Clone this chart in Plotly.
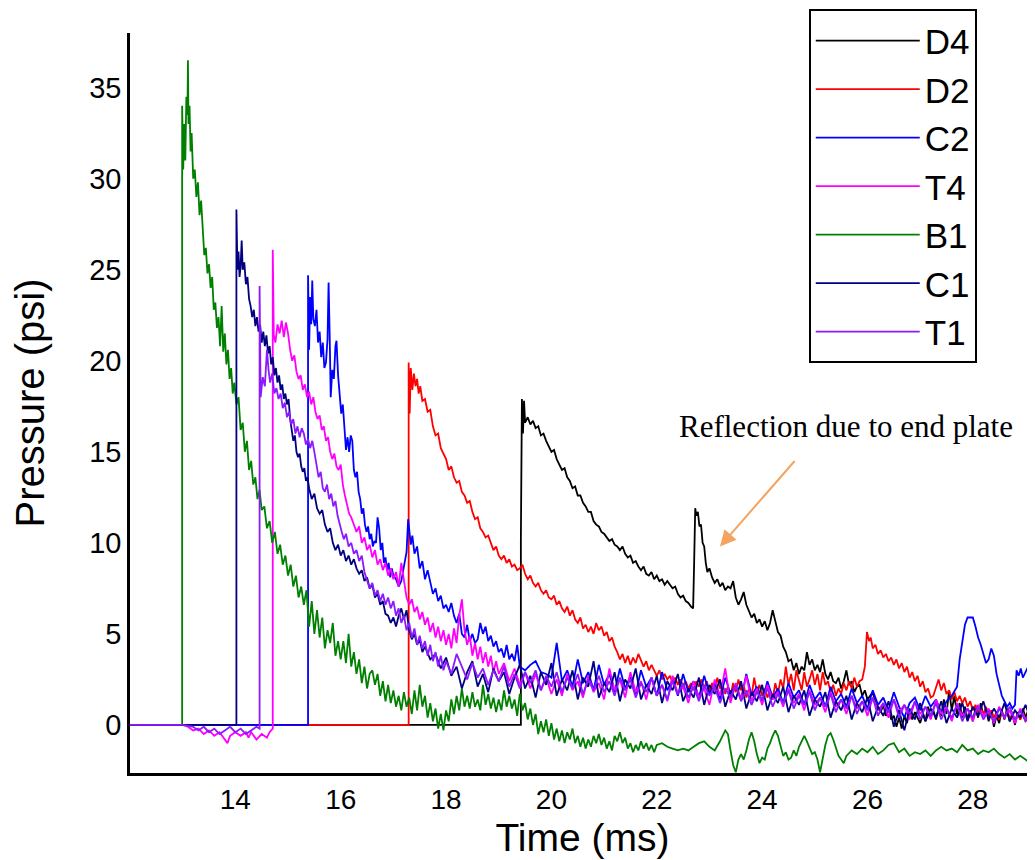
import plotly.graph_objects as go

# ---------------- data (time in ms, pressure in psi) ----------------
D4 = [(12.00,0),(19.42,0),(19.42,10.2),(19.44,17.9),(19.46,16.0),(19.48,17.8),(19.50,16.6),(19.55,16.9),
(19.60,16.5),(19.65,16.7),(19.70,16.3),(19.75,16.4),(19.80,15.9),(19.85,16.0),(19.90,15.6),(19.95,15.3),
(20.00,15.0),(20.05,15.1),(20.10,14.6),(20.15,14.3),(20.20,14.0),(20.25,14.1),(20.30,13.6),(20.35,13.4),
(20.40,13.0),(20.45,13.1),(20.50,12.6),(20.55,12.6),(20.60,12.2),(20.65,12.0),(20.70,11.7),(20.75,11.7),
(20.80,11.2),(20.85,11.0),(20.90,10.9),(20.95,10.6),(21.00,10.5),(21.05,10.3),(21.10,10.1),(21.15,10.2),
(21.20,9.9),(21.25,9.8),(21.30,9.6),(21.35,9.8),(21.40,9.4),(21.45,9.2),(21.50,9.3),(21.55,8.9),
(21.60,9.0),(21.65,8.7),(21.70,8.5),(21.75,8.7),(21.80,8.3),(21.85,8.2),(21.90,8.4),(21.95,8.0),
(22.00,8.2),(22.05,7.9),(22.10,8.0),(22.15,7.7),(22.20,7.9),(22.25,7.7),(22.30,7.5),(22.35,7.6),
(22.40,7.2),(22.45,7.0),(22.50,7.1),(22.55,6.8),(22.60,6.7),(22.65,6.5),(22.69,6.4),(22.71,9.0),
(22.73,11.9),(22.75,11.5),(22.78,11.7),(22.81,10.9),(22.84,11.0),(22.87,10.0),(22.90,9.8),(22.93,8.9),
(22.96,8.4),(23.00,8.6),(23.05,8.1),(23.10,7.8),(23.15,8.0),(23.20,7.6),(23.25,7.8),(23.30,7.4),
(23.35,7.6),(23.40,7.5),(23.45,7.9),(23.50,7.0),(23.55,6.6),(23.60,6.9),(23.65,7.3),(23.70,6.6),
(23.75,6.2),(23.80,5.9),(23.85,6.1),(23.90,5.6),(23.95,5.8),(24.00,5.4),(24.05,5.7),(24.10,5.2),
(24.15,5.6),(24.20,6.3),(24.25,5.7),(24.30,5.1),(24.35,4.9),(24.40,4.3),(24.45,4.0),(24.50,3.5),
(24.55,3.6),(24.60,3.0),(24.65,3.4),(24.70,2.8),(24.75,3.2),(24.80,3.0),(24.85,4.0),(24.90,3.3),
(24.95,3.6),(25.00,3.0),(25.05,3.3),(25.10,2.9),(25.15,3.6),(25.20,2.8),(25.25,2.5),(25.30,2.9),
(25.35,2.4),(25.40,2.3),(25.45,2.6),(25.50,2.0),(25.55,2.4),(25.60,3.0),(25.65,2.2),(25.70,2.4),
(25.75,1.8),(25.80,2.1),(25.85,2.2),(25.90,1.6),(25.95,1.9),(26.00,1.4),(26.05,1.6),(26.10,1.8),
(26.15,1.2),(26.20,1.0),(26.25,0.7),(26.30,1.1),(26.35,0.5),(26.40,0.9),(26.45,0.3),(26.50,0.5),
(26.55,-0.1),(26.60,0.4),(26.65,-0.2),(26.70,0.5),(26.75,0.1),(26.80,0.8),(26.85,0.3),(26.90,0.7),
(26.95,0.4),(27.00,0.1),(27.05,0.6),(27.10,0.2),(27.15,1.0),(27.20,0.4),(27.25,0.8),(27.30,0.3),
(27.35,0.9),(27.40,0.5),(27.45,1.4),(27.50,0.6),(27.55,1.9),(27.60,0.8),(27.65,1.6),(27.70,0.6),
(27.75,1.2),(27.80,0.4),(27.85,1.0),(27.90,0.3),(27.95,0.8),(28.00,0.2),(28.05,0.9),(28.10,0.4),
(28.15,1.2),(28.20,0.5),(28.25,0.9),(28.30,0.2),(28.35,0.7),(28.40,-0.1),(28.45,0.5),(28.50,0.1),
(28.55,0.8),(28.60,0.3),(28.65,0.9),(28.70,0.2),(28.75,0.6),(28.80,0.0),(28.85,0.7),(28.90,0.3),
(28.95,0.9),(29.00,0.4),(29.05,0.8),(29.10,0.5),(29.20,0.7)]

D2 = [(12.00,0),(17.29,0),(17.29,19.9),(17.31,17.1),(17.33,19.6),(17.36,18.4),(17.39,19.3),(17.42,18.6),
(17.45,19.0),(17.48,18.2),(17.51,18.6),(17.55,17.8),(17.60,17.9),(17.65,17.2),(17.70,17.3),(17.75,16.4),
(17.80,15.9),(17.85,16.0),(17.90,15.2),(17.95,14.9),(18.00,14.6),(18.05,14.0),(18.10,14.2),(18.15,13.6),
(18.20,13.3),(18.25,13.4),(18.30,12.8),(18.35,12.6),(18.40,12.2),(18.45,12.3),(18.50,11.7),(18.55,11.3),
(18.60,11.4),(18.65,10.8),(18.70,10.6),(18.75,10.3),(18.80,10.4),(18.85,10.0),(18.90,9.6),(18.95,9.8),
(19.00,9.3),(19.05,9.1),(19.10,9.3),(19.15,8.9),(19.20,9.1),(19.25,8.7),(19.30,8.8),(19.35,8.5),
(19.40,8.6),(19.45,8.8),(19.50,8.3),(19.55,8.0),(19.60,8.2),(19.65,7.8),(19.70,7.6),(19.75,7.8),
(19.80,7.4),(19.85,7.2),(19.90,7.4),(19.95,7.0),(20.00,6.9),(20.05,7.1),(20.10,6.6),(20.15,6.8),
(20.20,6.4),(20.25,6.2),(20.30,6.5),(20.35,6.0),(20.40,6.3),(20.45,5.8),(20.50,5.6),(20.55,5.9),
(20.60,5.3),(20.65,5.5),(20.70,5.1),(20.75,5.4),(20.80,5.0),(20.85,5.6),(20.90,5.2),(20.95,5.4),
(21.00,4.9),(21.05,5.1),(21.10,4.6),(21.15,4.8),(21.20,4.3),(21.25,4.0),(21.30,3.6),(21.35,3.9),
(21.40,3.4),(21.45,3.8),(21.50,3.3),(21.55,3.7),(21.60,3.4),(21.65,3.9),(21.70,3.5),(21.75,3.2),
(21.80,3.5),(21.85,3.0),(21.90,3.3),(21.95,3.0),(22.00,2.7),(22.05,3.0),(22.10,2.5),(22.15,2.8),
(22.20,2.5),(22.25,2.7),(22.30,2.3),(22.35,2.6),(22.40,2.2),(22.45,2.5),(22.50,2.1),(22.55,2.4),
(22.60,2.0),(22.65,2.3),(22.70,1.9),(22.75,2.4),(22.80,2.1),(22.85,2.5),(22.90,2.0),(22.95,2.4),
(23.00,1.8),(23.05,2.3),(23.10,1.9),(23.15,2.6),(23.20,2.0),(23.25,2.2),(23.30,1.7),(23.35,2.1),
(23.40,1.6),(23.45,2.3),(23.50,1.8),(23.55,2.5),(23.60,1.9),(23.65,2.2),(23.70,1.5),(23.75,2.0),
(23.80,1.6),(23.85,2.6),(23.90,1.8),(23.95,2.2),(24.00,1.6),(24.05,2.0),(24.10,1.5),(24.15,1.9),
(24.20,1.4),(24.25,2.3),(24.30,1.7),(24.35,2.5),(24.40,2.0),(24.45,3.2),(24.50,2.2),(24.55,2.8),
(24.60,1.9),(24.65,3.0),(24.70,2.4),(24.75,1.9),(24.80,2.9),(24.85,2.1),(24.90,2.5),(24.95,3.0),
(25.00,2.2),(25.05,2.8),(25.10,1.9),(25.15,2.9),(25.20,2.2),(25.25,2.4),(25.30,1.8),(25.35,2.2),
(25.40,1.6),(25.45,2.0),(25.50,1.7),(25.55,2.3),(25.60,1.9),(25.65,2.4),(25.70,2.0),(25.75,2.6),
(25.80,2.1),(25.85,2.4),(25.90,2.5),(25.95,3.2),(25.99,5.1),(26.03,4.6),(26.06,4.8),(26.10,4.2),
(26.15,4.4),(26.20,3.9),(26.25,4.1),(26.30,3.7),(26.35,3.9),(26.40,3.5),(26.45,3.7),(26.50,3.3),
(26.55,3.6),(26.60,3.1),(26.65,3.4),(26.70,2.9),(26.75,3.2),(26.80,2.6),(26.85,2.9),(26.90,2.4),
(26.95,2.7),(27.00,2.1),(27.05,2.4),(27.10,1.8),(27.15,2.0),(27.20,1.5),(27.25,1.6),(27.30,2.1),
(27.35,2.5),(27.40,1.9),(27.45,2.3),(27.50,1.7),(27.55,1.9),(27.60,1.4),(27.65,1.8),(27.70,1.3),
(27.75,1.6),(27.80,1.2),(27.85,1.5),(27.90,1.0),(27.95,1.3),(28.00,0.8),(28.05,1.1),(28.10,0.7),
(28.15,0.9),(28.20,0.6),(28.25,1.0),(28.30,0.5),(28.35,0.8),(28.40,0.4),(28.45,0.7),(28.50,0.3),
(28.55,0.7),(28.60,0.4),(28.65,0.8),(28.70,0.3),(28.75,0.6),(28.80,0.2),(28.85,0.6),(28.90,0.3),
(28.95,0.7),(29.00,0.2),(29.10,0.5),(29.20,0.3)]

C2 = [(12.00,0),(15.38,0),(15.38,24.7),(15.40,20.6),(15.42,23.5),(15.44,22.0),(15.46,24.4),(15.48,22.3),
(15.51,21.9),(15.54,22.8),(15.57,21.0),(15.60,21.6),(15.63,20.2),(15.66,21.0),(15.69,19.6),(15.72,19.9),
(15.75,21.2),(15.77,24.3),(15.79,21.5),(15.81,18.0),(15.84,19.5),(15.87,19.0),(15.90,20.8),(15.92,21.1),
(15.95,19.2),(15.98,18.2),(16.01,17.1),(16.04,17.6),(16.07,16.0),(16.10,15.1),(16.13,15.8),(16.16,15.0),
(16.19,15.9),(16.22,15.6),(16.25,14.0),(16.28,13.6),(16.31,13.9),(16.34,12.8),(16.37,12.4),(16.40,11.6),
(16.43,11.9),(16.46,11.0),(16.49,10.6),(16.52,10.9),(16.55,10.2),(16.58,10.5),(16.61,9.8),(16.64,10.1),
(16.67,10.0),(16.70,11.4),(16.73,10.8),(16.76,9.6),(16.79,10.0),(16.82,8.9),(16.85,9.2),(16.88,8.5),
(16.91,8.9),(16.94,8.1),(16.97,8.6),(17.00,8.2),(17.05,8.0),(17.10,7.6),(17.15,7.9),(17.20,8.6),
(17.25,9.5),(17.28,11.3),(17.30,10.6),(17.33,9.9),(17.36,10.4),(17.40,9.4),(17.45,9.8),(17.50,8.6),
(17.55,9.0),(17.60,8.0),(17.65,8.5),(17.70,7.8),(17.75,7.2),(17.80,7.5),(17.85,6.8),(17.90,7.1),
(17.95,6.4),(18.00,6.6),(18.05,6.2),(18.10,6.7),(18.15,6.0),(18.20,5.6),(18.25,6.1),(18.30,5.0),
(18.35,4.8),(18.40,5.5),(18.45,4.6),(18.50,5.0),(18.55,4.5),(18.60,4.7),(18.65,5.6),(18.70,5.0),
(18.75,5.4),(18.80,4.6),(18.85,4.9),(18.90,4.3),(18.95,4.6),(19.00,4.0),(19.05,4.2),(19.10,3.7),
(19.15,4.4),(19.20,3.6),(19.25,3.9),(19.30,3.5),(19.35,4.4),(19.40,3.2),(19.50,3.0),(19.60,3.3),
(19.70,3.5),(19.80,2.9),(19.90,2.8),(20.00,2.6),(20.10,4.5),(20.20,2.4),(20.30,3.0),(20.40,2.1),
(20.50,3.6),(20.60,2.3),(20.70,2.9),(20.80,1.9),(20.90,3.3),(21.00,2.2),(21.10,2.8),(21.20,1.8),
(21.30,3.1),(21.40,2.0),(21.50,2.7),(21.60,1.7),(21.70,3.0),(21.80,2.1),(21.90,2.6),(22.00,1.6),
(22.10,2.9),(22.20,1.9),(22.30,2.5),(22.40,1.6),(22.50,2.8),(22.60,1.8),(22.70,2.4),(22.80,1.5),
(22.90,2.7),(23.00,1.7),(23.10,2.3),(23.20,1.4),(23.30,2.6),(23.40,1.7),(23.50,2.2),(23.60,1.4),
(23.70,2.8),(23.80,1.6),(23.90,2.1),(24.00,1.3),(24.10,2.4),(24.20,1.5),(24.30,2.0),(24.40,1.2),
(24.50,2.3),(24.60,1.5),(24.70,1.9),(24.80,1.1),(24.90,2.2),(25.00,1.4),(25.10,1.8),(25.20,1.0),
(25.30,2.1),(25.40,1.3),(25.50,1.7),(25.60,1.0),(25.70,2.0),(25.80,1.2),(25.90,1.6),(26.00,0.9),
(26.10,1.9),(26.20,1.1),(26.30,1.5),(26.40,0.8),(26.50,1.8),(26.60,1.0),(26.70,0.4),(26.80,1.2),
(26.90,1.5),(27.00,0.8),(27.10,1.6),(27.20,1.0),(27.30,1.4),(27.40,0.7),(27.50,1.3),(27.60,1.6),
(27.70,2.1),(27.75,3.6),(27.80,4.6),(27.85,5.5),(27.90,5.9),(27.95,5.9),(28.00,5.9),(28.05,5.4),
(28.10,4.8),(28.15,4.4),(28.20,3.9),(28.25,3.4),(28.30,3.6),(28.35,4.2),(28.40,3.8),(28.45,2.8),
(28.50,2.2),(28.55,1.6),(28.60,1.3),(28.65,1.0),(28.70,1.2),(28.75,0.9),(28.80,1.1),(28.83,3.0),
(28.87,2.7),(28.91,3.1),(28.95,2.6),(29.00,2.9),(29.05,3.2),(29.10,2.4),(29.15,2.2),(29.20,2.0)]

T4 = [(12.00,0),(13.00,0),(13.10,-0.1),(13.20,-0.3),(13.30,-0.2),(13.40,-0.5),(13.50,-0.3),(13.60,-0.6),
(13.70,-0.4),(13.80,-0.8),(13.85,-1.0),(13.90,-0.6),(14.00,-0.4),(14.10,-0.6),(14.20,-0.4),(14.25,-0.7),
(14.30,-0.4),(14.40,-0.8),(14.50,-0.5),(14.60,-0.7),(14.65,-0.4),(14.71,-0.2),(14.71,26.1),(14.73,21.4),
(14.76,21.0),(14.80,22.0),(14.84,21.5),(14.88,22.2),(14.92,21.3),(14.96,22.1),(15.00,21.5),(15.04,20.6),
(15.08,20.0),(15.12,20.3),(15.16,19.4),(15.20,19.0),(15.24,19.2),(15.28,18.4),(15.32,18.7),(15.36,18.0),
(15.40,18.3),(15.44,17.6),(15.48,18.0),(15.52,17.2),(15.56,16.8),(15.60,17.0),(15.64,16.2),(15.68,16.4),
(15.72,15.6),(15.76,15.8),(15.80,15.0),(15.84,14.6),(15.88,14.9),(15.92,14.2),(15.96,14.0),(16.00,14.3),
(16.04,13.2),(16.08,12.6),(16.12,12.1),(16.16,11.6),(16.20,11.4),(16.25,11.0),(16.30,10.6),(16.35,10.9),
(16.40,10.0),(16.45,10.3),(16.50,9.6),(16.55,9.9),(16.60,9.2),(16.65,9.6),(16.70,8.8),(16.75,9.1),
(16.80,8.5),(16.85,8.9),(16.90,8.2),(16.95,8.6),(17.00,8.0),(17.05,8.4),(17.10,7.6),(17.15,8.9),
(17.20,7.8),(17.25,7.0),(17.30,6.6),(17.35,6.9),(17.40,6.2),(17.45,6.5),(17.50,5.8),(17.55,6.2),
(17.60,5.5),(17.65,5.9),(17.70,5.1),(17.75,5.6),(17.80,4.8),(17.85,5.4),(17.90,4.6),(17.95,5.2),
(18.00,4.4),(18.05,5.0),(18.10,4.2),(18.15,5.3),(18.20,4.5),(18.25,6.0),(18.30,6.9),(18.35,5.2),
(18.40,4.4),(18.45,4.9),(18.50,3.8),(18.55,4.5),(18.60,3.6),(18.65,4.3),(18.70,3.4),(18.75,4.0),
(18.80,3.2),(18.85,3.8),(18.90,2.9),(18.95,3.5),(19.00,2.8),(19.10,3.4),(19.20,2.4),(19.30,3.1),
(19.40,2.2),(19.50,2.9),(19.60,2.0),(19.70,2.8),(19.80,1.9),(19.90,2.6),(20.00,1.7),(20.10,2.5),
(20.20,1.6),(20.30,2.8),(20.40,1.9),(20.50,2.4),(20.60,1.5),(20.70,2.7),(20.80,1.8),(20.90,2.3),
(21.00,1.4),(21.10,3.1),(21.20,1.9),(21.30,2.5),(21.40,1.5),(21.50,2.9),(21.60,1.8),(21.70,2.4),
(21.80,1.4),(21.90,2.6),(22.00,1.6),(22.10,2.2),(22.20,1.3),(22.30,2.7),(22.40,1.7),(22.50,2.1),
(22.60,1.2),(22.70,2.4),(22.80,1.5),(22.90,2.0),(23.00,1.1),(23.10,2.5),(23.20,1.6),(23.30,3.1),
(23.40,1.2),(23.50,2.3),(23.60,1.4),(23.70,2.7),(23.80,1.3),(23.90,2.0),(24.00,1.1),(24.10,2.2),
(24.20,1.4),(24.30,1.8),(24.40,1.0),(24.50,2.0),(24.60,1.2),(24.70,1.7),(24.80,0.8),(24.90,1.9),
(25.00,1.1),(25.10,1.5),(25.20,0.7),(25.30,1.8),(25.40,1.0),(25.50,1.4),(25.60,0.6),(25.70,1.6),
(25.80,0.9),(25.90,1.3),(26.00,0.5),(26.10,1.5),(26.20,0.8),(26.30,1.2),(26.40,0.4),(26.50,1.4),
(26.60,0.7),(26.70,1.1),(26.80,0.3),(26.90,1.3),(27.00,0.6),(27.10,1.0),(27.20,0.3),(27.30,1.4),
(27.40,0.6),(27.50,1.0),(27.60,0.2),(27.70,1.2),(27.80,0.5),(27.90,0.9),(28.00,0.2),(28.10,1.1),
(28.20,0.5),(28.30,0.9),(28.40,0.1),(28.50,1.0),(28.60,0.4),(28.70,0.8),(28.80,0.1),(28.90,0.9),
(29.00,0.3),(29.10,0.7),(29.20,0.4)]

B1 = [(12.00,0),(12.99,0),(12.99,34.0),(13.01,30.5),(13.03,33.0),(13.05,31.0),(13.07,34.5),(13.09,33.5),
(13.10,36.5),(13.11,33.0),(13.13,34.0),(13.15,31.5),(13.17,32.5),(13.20,30.0),(13.23,30.5),(13.26,29.0),
(13.29,29.8),(13.32,28.0),(13.35,28.8),(13.38,27.0),(13.41,25.8),(13.44,26.2),(13.47,24.8),(13.50,25.3),
(13.53,24.0),(13.56,24.6),(13.59,22.8),(13.62,23.2),(13.65,21.8),(13.68,22.4),(13.71,20.8),(13.74,23.0),
(13.77,20.5),(13.80,21.5),(13.83,19.8),(13.86,20.6),(13.89,19.0),(13.92,19.6),(13.95,18.2),(13.98,18.8),
(14.02,17.6),(14.06,18.0),(14.10,16.2),(14.14,16.6),(14.18,15.0),(14.22,15.6),(14.26,14.0),(14.30,14.5),
(14.34,13.2),(14.38,13.6),(14.42,12.4),(14.46,12.9),(14.50,11.8),(14.55,12.0),(14.60,10.8),(14.65,11.2),
(14.70,10.0),(14.75,10.6),(14.80,9.4),(14.85,9.9),(14.90,8.8),(14.95,9.3),(15.00,8.2),(15.05,8.8),
(15.10,7.6),(15.15,8.2),(15.20,7.0),(15.25,7.6),(15.30,6.6),(15.35,7.4),(15.40,5.4),(15.45,6.8),
(15.50,5.0),(15.55,6.3),(15.60,4.8),(15.65,5.9),(15.70,4.2),(15.75,5.2),(15.80,4.5),(15.85,5.6),
(15.90,3.8),(15.95,4.6),(16.00,3.6),(16.05,4.6),(16.10,3.4),(16.15,5.0),(16.20,3.2),(16.25,4.0),
(16.30,2.8),(16.35,3.6),(16.40,2.3),(16.45,3.2),(16.50,2.0),(16.55,2.8),(16.60,3.0),(16.65,2.2),
(16.70,2.8),(16.75,1.6),(16.80,2.4),(16.85,1.3),(16.90,2.2),(16.95,1.2),(17.00,1.9),(17.05,1.0),
(17.10,1.6),(17.15,0.8),(17.20,1.8),(17.25,1.0),(17.30,1.5),(17.35,0.6),(17.40,1.9),(17.45,0.8),
(17.50,2.2),(17.55,1.0),(17.60,1.6),(17.65,0.4),(17.70,1.2),(17.75,0.2),(17.80,0.9),(17.85,-0.2),
(17.90,0.6),(17.95,-0.3),(18.00,0.8),(18.05,0.2),(18.10,1.4),(18.15,0.6),(18.20,1.6),(18.25,0.8),
(18.30,2.0),(18.35,1.0),(18.40,1.6),(18.45,0.9),(18.50,1.8),(18.55,1.0),(18.60,1.4),(18.65,0.8),
(18.70,2.2),(18.75,1.1),(18.80,1.7),(18.85,0.9),(18.90,1.5),(18.95,0.7),(19.00,1.4),(19.05,0.8),
(19.10,1.9),(19.15,1.0),(19.20,1.6),(19.25,0.9),(19.30,1.4),(19.35,0.5),(19.40,1.7),(19.45,0.8),
(19.50,1.2),(19.55,0.3),(19.60,0.9),(19.65,0.0),(19.70,0.6),(19.75,-0.5),(19.80,0.2),(19.85,-0.4),
(19.90,0.3),(19.95,-0.6),(20.00,0.1),(20.05,-0.8),(20.10,-0.2),(20.15,-0.9),(20.20,-0.3),(20.25,-1.0),
(20.30,-0.4),(20.35,-0.8),(20.40,-0.2),(20.45,-1.0),(20.50,-0.6),(20.55,-1.2),(20.60,-0.7),(20.65,-1.3),
(20.70,-0.8),(20.75,-1.2),(20.80,-0.6),(20.85,-1.0),(20.90,-0.5),(20.95,-1.1),(21.00,-0.7),(21.05,-1.3),
(21.10,-0.9),(21.15,-1.4),(21.20,-0.6),(21.25,-0.9),(21.30,-0.4),(21.35,-1.0),(21.40,-0.7),(21.45,-1.3),
(21.50,-1.0),(21.55,-1.5),(21.60,-1.1),(21.65,-1.4),(21.70,-0.9),(21.75,-1.3),(21.80,-1.0),(21.85,-1.4),
(21.90,-1.1),(21.95,-1.5),(22.00,-1.1),(22.10,-1.0),(22.20,-1.2),(22.30,-1.3),(22.40,-1.4),(22.50,-1.3),
(22.60,-1.4),(22.70,-1.2),(22.80,-1.0),(22.90,-0.9),(23.00,-1.2),(23.10,-1.4),(23.20,-0.9),(23.30,-0.3),
(23.35,-0.5),(23.40,-1.4),(23.45,-2.2),(23.50,-2.6),(23.55,-1.9),(23.60,-1.6),(23.65,-1.9),(23.70,-1.4),
(23.75,-0.8),(23.80,-0.4),(23.85,-0.9),(23.90,-1.6),(23.95,-2.1),(24.00,-1.8),(24.05,-1.9),(24.10,-1.3),
(24.15,-1.0),(24.20,-0.6),(24.25,-0.3),(24.30,-0.6),(24.35,-1.2),(24.40,-1.7),(24.45,-1.5),(24.50,-1.9),
(24.55,-1.8),(24.60,-1.4),(24.65,-1.7),(24.70,-1.2),(24.75,-0.9),(24.80,-0.6),(24.85,-0.9),(24.90,-1.3),
(24.95,-1.6),(25.00,-1.5),(25.05,-1.9),(25.10,-2.6),(25.15,-1.8),(25.20,-1.1),(25.25,-0.6),(25.30,-0.45),
(25.35,-0.8),(25.40,-1.3),(25.45,-1.7),(25.50,-1.9),(25.55,-2.1),(25.60,-1.7),(25.70,-1.4),(25.80,-1.6),
(25.90,-1.3),(26.00,-1.5),(26.10,-1.2),(26.20,-1.6),(26.30,-1.4),(26.40,-1.1),(26.50,-1.0),(26.60,-1.5),
(26.70,-1.3),(26.80,-1.7),(26.90,-1.5),(27.00,-1.6),(27.10,-1.4),(27.20,-1.7),(27.30,-1.4),(27.40,-1.2),
(27.50,-1.4),(27.60,-1.3),(27.70,-1.5),(27.80,-1.1),(27.90,-1.4),(28.00,-1.3),(28.10,-1.6),(28.20,-1.4),
(28.30,-1.5),(28.40,-1.3),(28.50,-1.6),(28.60,-1.8),(28.70,-1.6),(28.80,-1.9),(28.90,-1.7),(29.00,-1.9),
(29.10,-2.1),(29.20,-2.0)]

C1 = [(12.00,0),(14.02,0),(14.02,28.3),(14.04,25.0),(14.06,26.0),(14.08,24.6),(14.10,25.2),(14.12,26.6),
(14.14,25.0),(14.17,25.4),(14.20,24.2),(14.23,24.6),(14.26,23.4),(14.29,23.0),(14.32,22.4),(14.35,22.8),
(14.38,21.9),(14.41,22.4),(14.44,21.6),(14.47,22.0),(14.50,21.0),(14.53,21.6),(14.56,20.8),(14.59,21.4),
(14.62,20.4),(14.65,20.8),(14.68,19.8),(14.71,20.2),(14.74,19.2),(14.77,19.6),(14.80,18.8),(14.83,19.2),
(14.86,18.4),(14.89,18.7),(14.92,17.9),(14.95,18.2),(14.98,17.6),(15.01,17.9),(15.04,16.8),(15.07,16.2),
(15.10,15.6),(15.13,15.9),(15.16,15.0),(15.19,14.7),(15.22,14.9),(15.25,14.2),(15.28,13.9),(15.31,14.1),
(15.34,13.4),(15.37,13.6),(15.40,13.0),(15.45,12.4),(15.50,12.7),(15.55,11.9),(15.60,11.6),(15.65,11.8),
(15.70,11.0),(15.75,10.6),(15.80,10.8),(15.85,10.0),(15.90,9.6),(15.95,9.9),(16.00,9.3),(16.05,9.6),
(16.10,9.0),(16.15,9.3),(16.20,8.8),(16.25,9.1),(16.30,8.6),(16.35,8.3),(16.40,8.5),(16.45,7.9),
(16.50,8.1),(16.55,7.5),(16.60,7.7),(16.65,7.0),(16.70,7.2),(16.75,6.6),(16.80,6.8),(16.85,6.1),
(16.90,6.0),(16.95,5.6),(17.00,5.9),(17.05,5.4),(17.10,6.0),(17.15,6.4),(17.20,5.8),(17.25,6.3),
(17.30,5.2),(17.35,4.7),(17.40,5.0),(17.45,4.4),(17.50,4.7),(17.55,4.0),(17.60,4.3),(17.70,3.6),
(17.80,3.9),(17.90,3.1),(18.00,3.7),(18.10,2.7),(18.20,3.2),(18.30,2.0),(18.40,2.9),(18.50,3.5),
(18.60,2.1),(18.70,2.8),(18.80,1.8),(18.90,3.1),(19.00,2.4),(19.10,2.9),(19.20,1.7),(19.30,2.6),
(19.40,3.3),(19.50,2.0),(19.60,2.7),(19.70,1.5),(19.80,2.9),(19.90,2.2),(20.00,3.4),(20.10,1.6),
(20.20,2.5),(20.30,1.9),(20.40,3.0),(20.50,1.4),(20.60,2.6),(20.70,2.1),(20.80,3.5),(20.90,1.5),
(21.00,2.3),(21.10,1.8),(21.20,2.9),(21.30,1.3),(21.40,2.5),(21.50,2.0),(21.60,3.1),(21.70,1.4),
(21.80,2.2),(21.90,1.7),(22.00,2.7),(22.10,1.2),(22.20,2.4),(22.30,1.9),(22.40,2.8),(22.50,1.3),
(22.60,2.0),(22.70,1.5),(22.80,2.6),(22.90,1.1),(23.00,2.2),(23.10,1.7),(23.20,2.5),(23.30,1.0),
(23.40,1.9),(23.50,1.4),(23.60,2.4),(23.70,0.9),(23.80,1.8),(23.90,1.3),(24.00,2.2),(24.10,0.8),
(24.20,1.7),(24.30,1.2),(24.40,2.1),(24.50,0.7),(24.60,1.6),(24.70,1.1),(24.80,1.9),(24.90,0.5),
(25.00,1.4),(25.10,1.0),(25.20,1.8),(25.30,0.4),(25.40,1.3),(25.50,0.8),(25.60,1.6),(25.70,0.3),
(25.80,1.2),(25.90,0.7),(26.00,1.5),(26.10,0.2),(26.20,1.0),(26.30,0.5),(26.40,1.3),(26.50,-0.1),
(26.60,0.8),(26.70,-0.3),(26.80,0.9),(26.90,0.3),(27.00,1.2),(27.10,0.2),(27.20,0.9),(27.30,0.4),
(27.40,1.3),(27.50,0.1),(27.60,0.9),(27.70,0.4),(27.80,1.2),(27.90,0.2),(28.00,1.0),(28.10,0.5),
(28.20,1.3),(28.30,0.3),(28.40,0.9),(28.50,0.4),(28.60,1.2),(28.70,0.2),(28.80,0.8),(28.90,0.4),
(29.00,1.1),(29.10,0.3),(29.20,0.8)]

T1 = [(12.00,0),(13.00,0),(13.20,-0.1),(13.30,-0.3),(13.40,-0.1),(13.50,-0.4),(13.60,-0.2),(13.70,-0.5),
(13.80,-0.3),(13.90,-0.1),(14.00,-0.4),(14.10,-0.2),(14.20,-0.5),(14.30,-0.3),(14.40,-0.1),(14.46,-0.2),
(14.46,24.1),(14.48,18.0),(14.52,19.1),(14.56,18.6),(14.60,20.6),(14.63,19.5),(14.66,18.8),(14.70,19.3),
(14.74,18.2),(14.78,18.5),(14.82,17.9),(14.86,18.2),(14.90,17.4),(14.94,17.7),(14.98,16.9),(15.02,17.2),
(15.06,16.5),(15.10,16.8),(15.14,16.0),(15.18,16.4),(15.22,15.8),(15.26,16.3),(15.30,16.0),(15.34,15.4),
(15.38,15.7),(15.42,15.2),(15.46,15.6),(15.50,15.0),(15.54,14.2),(15.58,13.6),(15.62,13.9),(15.66,13.0),
(15.70,12.8),(15.74,13.2),(15.78,12.4),(15.82,12.7),(15.86,12.0),(15.90,12.3),(15.94,11.5),(15.98,11.0),
(16.02,10.6),(16.06,10.2),(16.10,10.5),(16.15,9.8),(16.20,10.0),(16.25,9.4),(16.30,9.6),(16.35,9.0),
(16.40,9.3),(16.45,8.4),(16.50,8.0),(16.55,7.5),(16.60,7.8),(16.65,7.1),(16.70,7.4),(16.75,6.8),
(16.80,7.2),(16.85,6.6),(16.90,7.0),(16.95,6.4),(17.00,6.8),(17.05,6.0),(17.10,6.4),(17.15,5.6),
(17.20,6.0),(17.25,5.2),(17.30,5.6),(17.35,4.8),(17.40,5.3),(17.45,4.4),(17.50,4.9),(17.55,4.2),
(17.60,4.6),(17.65,3.8),(17.70,4.4),(17.75,3.5),(17.80,4.0),(17.85,3.2),(17.90,3.8),(17.95,3.0),
(18.00,3.5),(18.10,2.8),(18.20,3.9),(18.30,3.2),(18.40,2.5),(18.50,3.4),(18.60,2.6),(18.70,3.1),
(18.80,2.2),(18.90,3.0),(19.00,2.4),(19.10,3.2),(19.20,2.1),(19.30,2.8),(19.40,2.0),(19.50,2.9),
(19.60,2.3),(19.70,3.0),(19.80,1.9),(19.90,2.7),(20.00,2.1),(20.10,2.9),(20.20,1.8),(20.30,2.6),
(20.40,2.0),(20.50,2.8),(20.60,1.7),(20.70,2.5),(20.80,1.9),(20.90,2.7),(21.00,1.8),(21.10,2.4),
(21.20,1.6),(21.30,2.6),(21.40,1.9),(21.50,2.5),(21.60,1.5),(21.70,2.3),(21.80,1.8),(21.90,2.6),
(22.00,1.6),(22.10,2.2),(22.20,1.4),(22.30,2.4),(22.40,1.7),(22.50,2.3),(22.60,1.5),(22.70,2.1),
(22.80,1.3),(22.90,2.2),(23.00,1.6),(23.10,2.1),(23.20,1.2),(23.30,2.0),(23.40,1.5),(23.50,2.2),
(23.60,1.3),(23.70,1.9),(23.80,1.1),(23.90,1.8),(24.00,1.4),(24.10,2.0),(24.20,1.0),(24.30,1.7),
(24.40,1.2),(24.50,1.9),(24.60,0.9),(24.70,1.6),(24.80,1.1),(24.90,1.8),(25.00,0.8),(25.10,1.5),
(25.20,1.0),(25.30,1.7),(25.40,0.7),(25.50,1.4),(25.60,0.9),(25.70,1.6),(25.80,0.6),(25.90,1.3),
(26.00,0.8),(26.10,1.5),(26.20,0.5),(26.30,1.2),(26.40,0.7),(26.50,1.4),(26.60,0.4),(26.70,1.1),
(26.80,0.6),(26.90,1.3),(27.00,0.3),(27.10,1.0),(27.20,0.5),(27.30,1.2),(27.40,0.3),(27.50,0.9),
(27.60,0.4),(27.70,1.1),(27.80,0.2),(27.90,0.9),(28.00,0.4),(28.10,1.0),(28.20,0.3),(28.30,0.8),
(28.40,0.2),(28.50,0.9),(28.60,0.4),(28.70,1.0),(28.80,0.3),(28.90,0.8),(29.00,0.2),(29.10,0.9),
(29.20,0.5)]

SERIES = [("D4", D4, "#000000"), ("D2", D2, "#ff0000"), ("C2", C2, "#0000ff"),
          ("T4", T4, "#ff00ff"), ("B1", B1, "#008000"), ("C1", C1, "#000080"),
          ("T1", T1, "#8c1aff")]

X_TICKS = [14, 16, 18, 20, 22, 24, 26, 28]
Y_TICKS = [0, 5, 10, 15, 20, 25, 30, 35]
NOTE_TEXT = "Reflection due to end plate"
NOTE_POS = (25.6, 16.4)
ARROW_HEAD = (23.2, 9.8)

FONT = "Liberation Sans, Arial, sans-serif"

fig = go.Figure()
for name, pts, color in SERIES:
    fig.add_trace(go.Scatter(
        x=[p[0] for p in pts], y=[p[1] for p in pts], mode="lines", name=name,
        line=dict(color=color, width=1.8)))

# The page body adds an 8px offset, so the figure is sized to fill the rest of the window.
fig.update_layout(
    width=1027, height=852,
    margin=dict(l=122, r=0, t=25, b=87, autoexpand=False),
    paper_bgcolor="white", plot_bgcolor="white",
    font=dict(family=FONT, color="black"),
    showlegend=True,
    legend=dict(x=0.75, y=1.032, xanchor="left", yanchor="top",
                bordercolor="black", borderwidth=2, bgcolor="white",
                font=dict(size=35, family=FONT), itemwidth=104,
                tracegroupgap=0),
    xaxis=dict(range=[12, 29.18], tickvals=X_TICKS, ticks="", showgrid=False,
               zeroline=False, showline=True, linecolor="black", linewidth=2.5,
               tickfont=dict(size=28, family=FONT), automargin=False,
               title=dict(text="Time (ms)", font=dict(size=39, family=FONT), standoff=10)),
    yaxis=dict(range=[-2.64, 38], tickvals=Y_TICKS, ticks="", showgrid=False,
               zeroline=False, showline=True, linecolor="black", linewidth=2.5,
               tickfont=dict(size=29, family=FONT), automargin=False,
               title=dict(text="Pressure (psi)", font=dict(size=40, family=FONT), standoff=40)),
    annotations=[
        dict(x=NOTE_POS[0], y=NOTE_POS[1], xref="x", yref="y", text=NOTE_TEXT,
             showarrow=False, font=dict(family="Liberation Serif, Times New Roman, serif",
                                        size=31, color="black")),
        dict(x=ARROW_HEAD[0], y=ARROW_HEAD[1], xref="x", yref="y", text="",
             showarrow=True, ax=76, ay=-87, arrowcolor="#f4a460", arrowwidth=2,
             arrowhead=2, arrowsize=1.6, standoff=0),
    ],
)

fig.write_html("out.html")
